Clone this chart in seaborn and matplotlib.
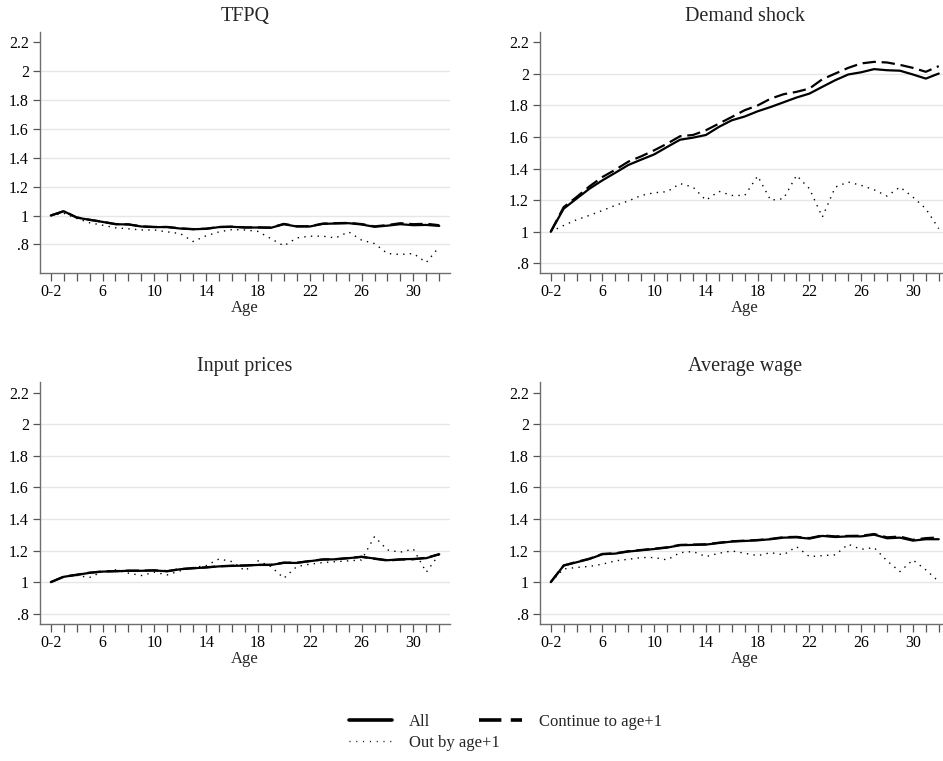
import numpy as np
import pandas as pd
import matplotlib
matplotlib.use("Agg")
import matplotlib.pyplot as plt
from matplotlib.lines import Line2D
from matplotlib.ticker import MultipleLocator
import seaborn as sns

# ---------------- data ----------------
ages = list(range(2, 33))
xtick_pos = [2, 6, 10, 14, 18, 22, 26, 30]
xtick_labels = ["0-2", "6", "10", "14", "18", "22", "26", "30"]
ytick_pos = [0.8, 1.0, 1.2, 1.4, 1.6, 1.8, 2.0, 2.2]
ytick_labels = [".8", "1", "1.2", "1.4", "1.6", "1.8", "2", "2.2"]

tfpq_all = [1.000, 1.030, 0.986, 0.970, 0.956, 0.940, 0.938, 0.924, 0.920, 0.920,
            0.910, 0.905, 0.908, 0.920, 0.922, 0.917, 0.917, 0.915, 0.940, 0.924,
            0.924, 0.942, 0.945, 0.947, 0.938, 0.922, 0.930, 0.940, 0.933, 0.935,
            0.928]
tfpq_cont = [1.000, 1.030, 0.987, 0.971, 0.957, 0.941, 0.939, 0.925, 0.921, 0.921,
             0.911, 0.906, 0.909, 0.921, 0.923, 0.918, 0.918, 0.917, 0.942, 0.926,
             0.926, 0.944, 0.947, 0.949, 0.941, 0.925, 0.934, 0.947, 0.940, 0.943,
             0.933]
tfpq_out = [1.000, 1.016, 0.980, 0.950, 0.933, 0.915, 0.908, 0.900, 0.900, 0.887,
            0.875, 0.820, 0.860, 0.887, 0.903, 0.900, 0.890, 0.840, 0.790, 0.845,
            0.857, 0.857, 0.845, 0.887, 0.830, 0.806, 0.737, 0.730, 0.737, 0.675,
            0.783]

dem_all = [1.000, 1.146, 1.210, 1.273, 1.326, 1.374, 1.423, 1.457, 1.490, 1.537,
           1.583, 1.596, 1.613, 1.664, 1.706, 1.730, 1.763, 1.790, 1.820, 1.850,
           1.875, 1.918, 1.960, 1.996, 2.010, 2.030, 2.023, 2.020, 1.996, 1.970,
           2.002]
dem_cont = [1.000, 1.156, 1.220, 1.288, 1.347, 1.393, 1.444, 1.478, 1.516, 1.558,
            1.605, 1.613, 1.643, 1.685, 1.727, 1.770, 1.800, 1.843, 1.871, 1.886,
            1.907, 1.966, 2.002, 2.038, 2.066, 2.076, 2.072, 2.057, 2.038, 2.013,
            2.049]
dem_out = [1.000, 1.040, 1.076, 1.104, 1.135, 1.167, 1.195, 1.230, 1.247, 1.254,
           1.305, 1.283, 1.200, 1.256, 1.230, 1.230, 1.353, 1.200, 1.210, 1.357,
           1.273, 1.093, 1.283, 1.315, 1.294, 1.266, 1.226, 1.283, 1.220, 1.146,
           1.020]

inp_all = [1.000, 1.034, 1.046, 1.059, 1.067, 1.069, 1.072, 1.072, 1.074, 1.069,
           1.082, 1.088, 1.093, 1.100, 1.103, 1.105, 1.109, 1.109, 1.122, 1.122,
           1.133, 1.143, 1.145, 1.152, 1.160, 1.150, 1.139, 1.145, 1.147, 1.152,
           1.177]
inp_cont = [1.000, 1.035, 1.047, 1.060, 1.068, 1.070, 1.073, 1.073, 1.075, 1.070,
            1.083, 1.089, 1.094, 1.101, 1.104, 1.106, 1.110, 1.110, 1.124, 1.123,
            1.134, 1.144, 1.146, 1.153, 1.161, 1.148, 1.137, 1.143, 1.145, 1.155,
            1.177]
inp_out = [1.000, 1.034, 1.042, 1.030, 1.067, 1.078, 1.057, 1.042, 1.063, 1.046,
           1.072, 1.093, 1.105, 1.147, 1.130, 1.072, 1.135, 1.099, 1.025, 1.099,
           1.114, 1.124, 1.130, 1.135, 1.141, 1.288, 1.204, 1.190, 1.210, 1.063,
           1.177]

wage_all = [1.000, 1.105, 1.126, 1.147, 1.177, 1.181, 1.194, 1.202, 1.210, 1.219,
            1.234, 1.236, 1.238, 1.248, 1.257, 1.261, 1.265, 1.272, 1.282, 1.284,
            1.276, 1.293, 1.286, 1.290, 1.290, 1.301, 1.278, 1.282, 1.263, 1.272,
            1.272]
wage_cont = [1.000, 1.106, 1.128, 1.149, 1.179, 1.183, 1.196, 1.204, 1.212, 1.221,
             1.236, 1.238, 1.240, 1.250, 1.259, 1.263, 1.267, 1.274, 1.285, 1.287,
             1.279, 1.296, 1.290, 1.293, 1.294, 1.305, 1.284, 1.289, 1.268, 1.279,
             1.283]
wage_out = [1.000, 1.084, 1.093, 1.100, 1.114, 1.135, 1.145, 1.156, 1.156, 1.141,
            1.187, 1.194, 1.162, 1.183, 1.198, 1.183, 1.168, 1.187, 1.173, 1.225,
            1.162, 1.168, 1.173, 1.240, 1.208, 1.219, 1.135, 1.067, 1.141, 1.078,
            1.004]

panel_titles = ["TFPQ", "Demand shock", "Input prices", "Average wage"]
series_names = ["All", "Continue to age+1", "Out by age+1"]
panel_data = [
    (tfpq_all, tfpq_cont, tfpq_out),
    (dem_all, dem_cont, dem_out),
    (inp_all, inp_cont, inp_out),
    (wage_all, wage_cont, wage_out),
]
panel_ylims = [(0.60, 2.273), (0.737, 2.267), (0.735, 2.266), (0.735, 2.266)]

# ---------------- style ----------------
sns.set_theme(style="white")
plt.rcParams["font.family"] = ["Liberation Serif", "DejaVu Serif"]
plt.rcParams["axes.edgecolor"] = "#6e6e6e"

W, H = 943, 761
fig = plt.figure(figsize=(W / 100, H / 100), dpi=100)
fig.patch.set_facecolor("white")

def px_axes(left, right, top, bottom):
    return fig.add_axes([left / W, 1 - bottom / H, (right - left) / W, (bottom - top) / H])

boxes = [
    (40.0, 450.0, 31.7, 273.3),
    (540.0, 949.5, 31.7, 273.3),
    (40.0, 450.0, 382.3, 624.0),
    (540.0, 949.5, 382.3, 624.0),
]

line_styles = [
    dict(linestyle="-", linewidth=1.6),
    dict(linestyle=(0, (6, 2.6)), linewidth=1.6),
    dict(linestyle=(0, (1.0, 3.8)), linewidth=1.0),
]

for (l, r, t, b), title, data, ylim in zip(boxes, panel_titles, panel_data, panel_ylims):
    ax = px_axes(l, r, t, b)
    for vals, name, st in zip(data, series_names, line_styles):
        df = pd.DataFrame({"age": ages, "value": vals})
        sns.lineplot(data=df, x="age", y="value", ax=ax, color="black",
                     legend=False, **st)
    ax.set_xlim(1.17, 32.83)
    ax.set_ylim(*ylim)
    ax.set_xticks(xtick_pos)
    ax.set_xticklabels(xtick_labels)
    ax.xaxis.set_minor_locator(MultipleLocator(1))
    ax.set_yticks(ytick_pos)
    ax.set_yticklabels(ytick_labels)
    ax.tick_params(axis="both", which="both", direction="out", color="#555555",
                   labelcolor="black", labelsize=11.5)
    ax.tick_params(axis="x", which="both", length=5.5, width=0.9, pad=2.5, bottom=True)
    ax.tick_params(axis="y", which="major", length=5, width=0.9, pad=3, left=True)
    ax.grid(True, axis="y", color="#e6e6e6", linewidth=1.0)
    ax.grid(False, axis="x")
    gl = ax.get_ygridlines()
    gl[-1].set_visible(False)
    ax.set_axisbelow(True)
    for s in ["top", "right"]:
        ax.spines[s].set_visible(False)
    for s in ["left", "bottom"]:
        ax.spines[s].set_color("#6e6e6e")
        ax.spines[s].set_linewidth(1.0)
    ax.set_xlabel("Age", fontsize=12, labelpad=0)
    ax.set_ylabel("")
    ax.set_title(title, fontsize=14.5, pad=8)
    ax.set_facecolor("white")

# ---------------- legend ----------------
h_all = Line2D([], [], color="black", linestyle="-", linewidth=2.6)
h_cont = Line2D([], [], color="black", linestyle=(0, (6.2, 2.6)), linewidth=2.6)
h_out = Line2D([], [], color="black", linestyle=(0, (0.7, 4.2)), linewidth=1.0)

leg1 = fig.legend([h_all, h_cont], ["All", "Continue to age+1"], ncol=2,
                  loc="center left", bbox_to_anchor=(349 / W, 1 - 722 / H),
                  frameon=False, fontsize=12, handlelength=2.6, handletextpad=1.0,
                  columnspacing=2.9, borderpad=0, borderaxespad=0)
leg2 = fig.legend([h_out], ["Out by age+1"], ncol=1,
                  loc="center left", bbox_to_anchor=(349 / W, 1 - 743 / H),
                  frameon=False, fontsize=12, handlelength=2.6, handletextpad=1.0,
                  borderpad=0, borderaxespad=0)

fig.savefig("out.png", dpi=100, facecolor="white")
